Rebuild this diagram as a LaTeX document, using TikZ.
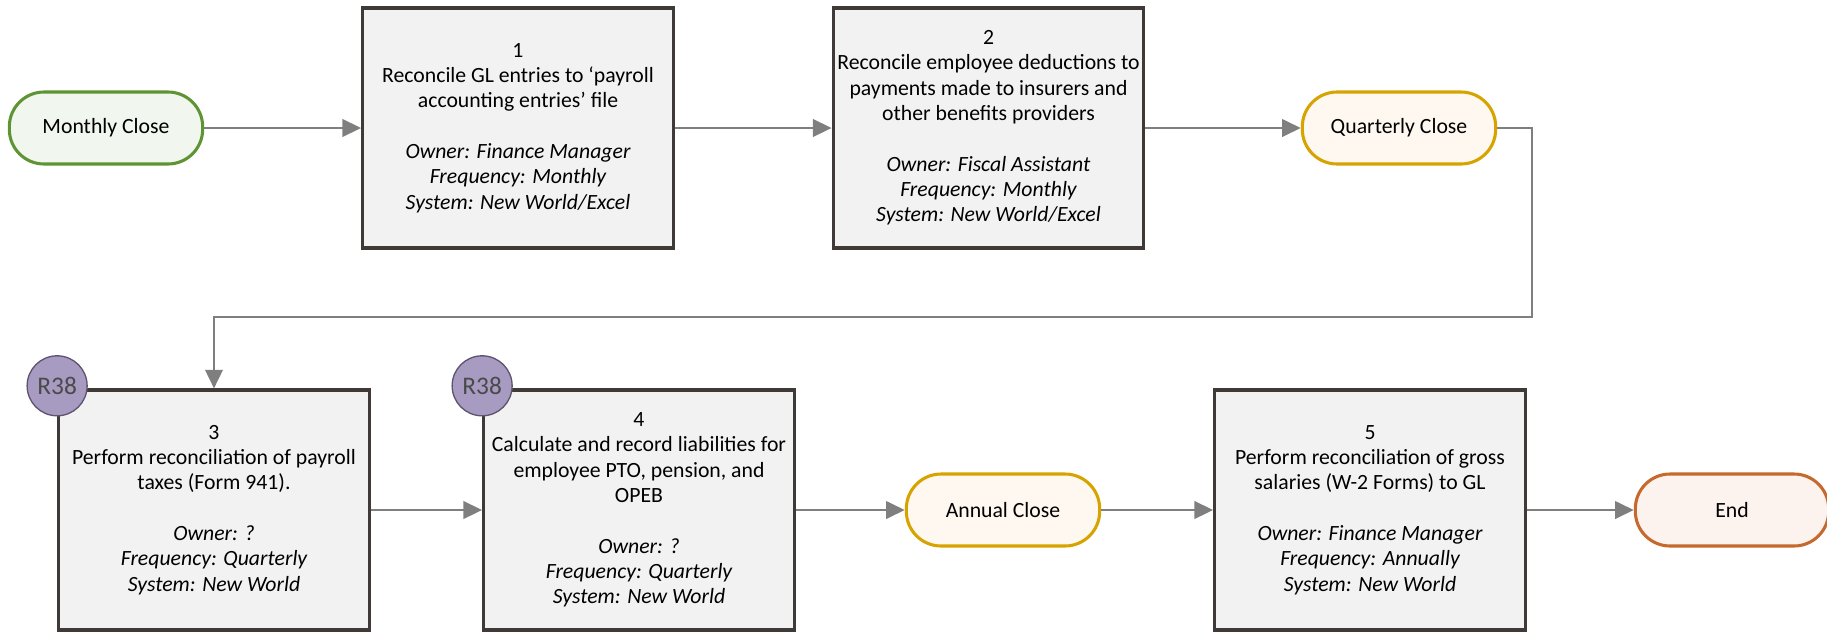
\documentclass[tikz,border=0pt]{standalone}
\usepackage{fontspec}
\setmainfont{Carlito}
\usetikzlibrary{arrows.meta}
\definecolor{boxfill}{HTML}{F2F2F2}
\definecolor{boxline}{HTML}{3F3A37}
\definecolor{flow}{HTML}{7F7F7F}
\definecolor{greenline}{HTML}{5F9434}
\definecolor{greenfill}{HTML}{F1F6EE}
\definecolor{goldline}{HTML}{D6A300}
\definecolor{goldfill}{HTML}{FFF8F0}
\definecolor{orangeline}{HTML}{C5692D}
\definecolor{orangefill}{HTML}{FCF2EE}
\definecolor{riskfill}{HTML}{A89BC2}
\definecolor{riskline}{HTML}{5F5470}
\definecolor{risktext}{HTML}{4A4A4A}
\tikzset{
  base/.style={font=\fontsize{16.3}{19}\selectfont, text=black, align=center, inner sep=0pt},
  stepbox/.style={base, draw=boxline, fill=boxfill, line width=2.3pt,
    minimum width=233pt, minimum height=180pt},
  terminal/.style={base, line width=2.3pt, rounded corners=26pt,
    minimum width=145pt, minimum height=54pt},
  startterm/.style={terminal, draw=greenline, fill=greenfill},
  closeterm/.style={terminal, draw=goldline, fill=goldfill},
  endterm/.style={terminal, draw=orangeline, fill=orangefill},
  riskmark/.style={circle, draw=riskline, fill=riskfill, line width=1pt,
    minimum size=45pt, inner sep=0pt, text=risktext, font=\fontsize{19}{21}\selectfont},
  flowline/.style={draw=flow, line width=2pt,
    -{Triangle[length=14pt, width=13pt]}},
}
\begin{document}
\begin{tikzpicture}[x=0.75pt, y=-0.75pt]
\useasboundingbox (0,0) rectangle (1827,633);

% top row
\node[startterm] (mc) at (106,128) {Monthly Close};
\node[stepbox] (s1) at (518,128) {1\\Reconcile GL entries to ‘payroll\\accounting entries’ file\\[19pt]
  \itshape Owner: Finance Manager\\\itshape Frequency: Monthly\\\itshape System: New World/Excel};
\node[stepbox] (s2) at (988.5,128) {2\\Reconcile employee deductions to\\payments made to insurers and\\other benefits providers\\[19pt]
  \itshape Owner: Fiscal Assistant\\\itshape Frequency: Monthly\\\itshape System: New World/Excel};
\node[closeterm] (qc) at (1399,128) {Quarterly Close};

% bottom row
\node[stepbox] (s3) at (214,510) {3\\Perform reconciliation of payroll\\taxes (Form 941).\\[19pt]
  \itshape Owner: ?\\\itshape Frequency: Quarterly\\\itshape System: New World};
\node[stepbox] (s4) at (639,510) {4\\Calculate and record liabilities for\\employee PTO, pension, and\\OPEB\\[19pt]
  \itshape Owner: ?\\\itshape Frequency: Quarterly\\\itshape System: New World};
\node[closeterm] (ac) at (1003,510) {Annual Close};
\node[stepbox] (s5) at (1370,510) {5\\Perform reconciliation of gross\\salaries (W-2 Forms) to GL\\[19pt]
  \itshape Owner: Finance Manager\\\itshape Frequency: Annually\\\itshape System: New World};
\node[endterm] (en) at (1732,510) {End};

% risk markers on the control boxes
\node[riskmark] (r1) at ([yshift=2pt]s3.north west) {R38};
\node[riskmark] (r2) at ([yshift=2pt]s4.north west) {R38};

% connectors
\coordinate (bend) at (1532,317);
\draw[flowline] (mc) -- (s1);
\draw[flowline] (s1) -- (s2);
\draw[flowline] (s2) -- (qc);
\draw[flowline] (qc.east) -| (bend) -| (s3.north);
\draw[flowline] (s3) -- (s4);
\draw[flowline] (s4) -- (ac);
\draw[flowline] (ac) -- (s5);
\draw[flowline] (s5) -- (en);
\end{tikzpicture}
\end{document}
